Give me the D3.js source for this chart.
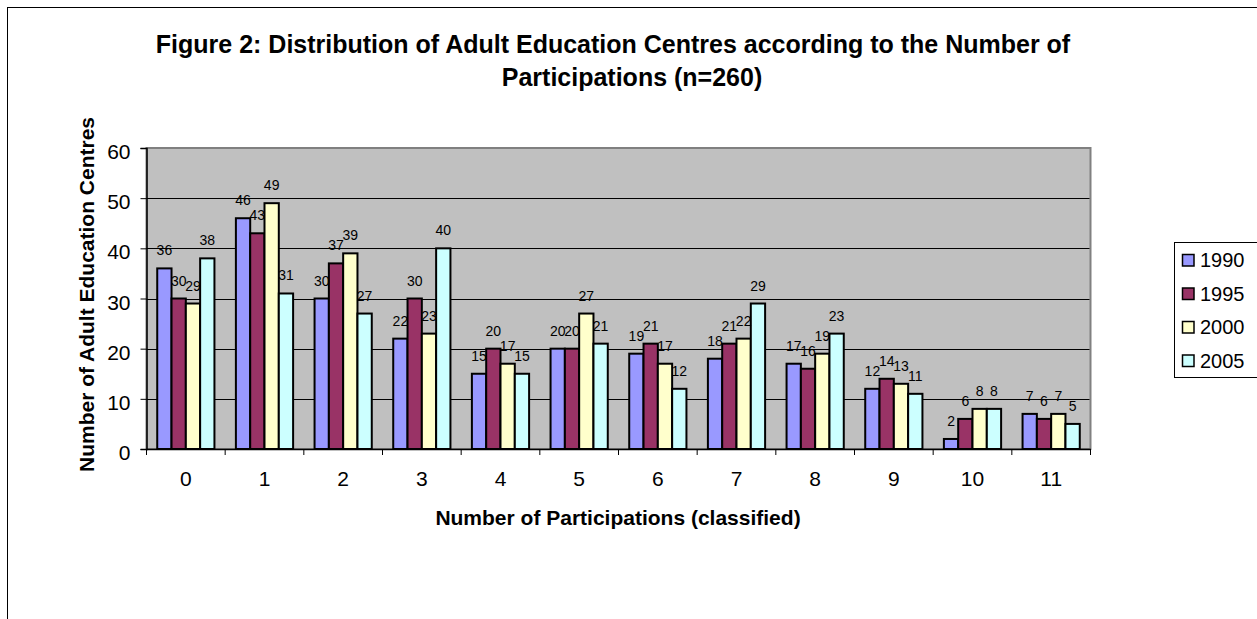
<!DOCTYPE html>
<html>
<head>
<meta charset="utf-8">
<script src="https://cdn.jsdelivr.net/npm/d3@7"></script>
<style>
  html, body { margin: 0; padding: 0; background: #fff; }
  svg text { font-family: "Liberation Sans", Arial, sans-serif; fill: #000; }
</style>
</head>
<body>
<svg id="chart" width="1257" height="619"></svg>
<script>
const categories = ["0","1","2","3","4","5","6","7","8","9","10","11"];
const seriesNames = ["1990","1995","2000","2005"];
const values1990 = [36,46,30,22,15,20,19,18,17,12,2,7];
const values1995 = [30,43,37,30,20,20,21,21,16,14,6,6];
const values2000 = [29,49,39,23,17,27,17,22,19,13,8,7];
const values2005 = [38,31,27,40,15,21,12,29,23,11,8,5];
const yTicks = [0,10,20,30,40,50,60];
const colors = ["#9999FF","#993366","#FFFFCC","#CCFFFF"];
const titleLines = ["Figure 2: Distribution of Adult Education Centres according to the Number of", "Participations (n=260)"];
const xTitle = "Number of Participations (classified)";
const yTitle = "Number of Adult Education Centres";

const series = [values1990, values1995, values2000, values2005];

const svg = d3.select("#chart");

// outer chart border
svg.append("rect").attr("x", 7.5).attr("y", 7.5).attr("width", 1300).attr("height", 700)
  .attr("fill", "#fff").attr("stroke", "#000").attr("stroke-width", 1);

const plot = {left: 146.5, right: 1090.5, top: 148, bottom: 449};

const x = d3.scaleBand().domain(categories).range([plot.left, plot.right])
  .paddingInner(1.5/5.5).paddingOuter(0.75/5.5);
const xs = d3.scaleBand().domain(d3.range(4)).range([0, x.bandwidth()]);
const y = d3.scaleLinear().domain([0, 60]).range([plot.bottom, plot.top]);

// plot background
svg.append("rect").attr("x", plot.left).attr("y", plot.top)
  .attr("width", plot.right - plot.left).attr("height", plot.bottom - plot.top)
  .attr("fill", "#C0C0C0").attr("stroke", "#808080").attr("stroke-width", 2);

// gridlines
svg.append("g").selectAll("line").data(yTicks.filter(d => d > 0 && d < 60)).join("line")
  .attr("x1", plot.left).attr("x2", plot.right - 1)
  .attr("y1", d => Math.round(y(d)) + 0.5).attr("y2", d => Math.round(y(d)) + 0.5)
  .attr("stroke", "#000").attr("stroke-width", 1);

// bars
const groups = svg.append("g").selectAll("g").data(categories).join("g")
  .attr("transform", d => `translate(${x(d)},0)`);
groups.selectAll("rect").data((d, i) => series.map((s, k) => ({k, v: s[i]}))).join("rect")
  .attr("x", d => xs(d.k))
  .attr("y", d => y(d.v))
  .attr("width", xs.bandwidth())
  .attr("height", d => y(0) - y(d.v))
  .attr("fill", d => colors[d.k])
  .attr("stroke", "#000").attr("stroke-width", 2);

// data labels
groups.selectAll("text").data((d, i) => series.map((s, k) => ({k, v: s[i]}))).join("text")
  .attr("x", d => xs(d.k) + xs.bandwidth() / 2)
  .attr("y", d => y(d.v) - 13)
  .attr("text-anchor", "middle")
  .attr("font-size", "14px")
  .text(d => d.v);

// y axis
const yAxis = svg.append("g").attr("transform", `translate(${plot.left},0)`)
  .call(d3.axisLeft(y).tickValues(yTicks).tickSize(6).tickPadding(10));
yAxis.select(".domain").attr("stroke", "#000").attr("stroke-width", 1.5);
yAxis.selectAll(".tick line").attr("stroke", "#000");
yAxis.selectAll(".tick text").attr("font-size", "21px").attr("font-family", "Liberation Sans, Arial, sans-serif").attr("dy", "0.5em");

// x axis
const xAxis = svg.append("g").attr("transform", `translate(0,${plot.bottom})`)
  .call(d3.axisBottom(x).tickSize(0).tickPadding(22));
xAxis.select(".domain").attr("stroke", "#000").attr("stroke-width", 1.5);
xAxis.selectAll(".tick text").attr("font-size", "21px").attr("font-family", "Liberation Sans, Arial, sans-serif");
// category boundary ticks
const bounds = categories.map(c => x(c) - x.step() * x.paddingOuter()).concat([plot.right]);
svg.append("g").selectAll("line").data(bounds).join("line")
  .attr("x1", d => d).attr("x2", d => d)
  .attr("y1", plot.bottom).attr("y2", plot.bottom + 6)
  .attr("stroke", "#000").attr("stroke-width", 1);

// titles
const titleX = [613, 632];
svg.append("text").attr("text-anchor", "middle")
  .attr("font-size", "25px").attr("font-weight", "bold")
  .selectAll("tspan").data(titleLines).join("tspan")
  .attr("x", (d, i) => titleX[i]).attr("y", (d, i) => 53 + i * 33).text(d => d);

svg.append("text").attr("x", 618).attr("y", 525).attr("text-anchor", "middle")
  .attr("font-size", "21px").attr("font-weight", "bold").text(xTitle);

svg.append("text").attr("transform", `translate(94,${(plot.top + plot.bottom) / 2 - 4}) rotate(-90)`)
  .attr("text-anchor", "middle")
  .attr("font-size", "21px").attr("font-weight", "bold").text(yTitle);

// legend
const legend = svg.append("g");
legend.append("rect").attr("x", 1174.5).attr("y", 242.5).attr("width", 120).attr("height", 135)
  .attr("fill", "#fff").attr("stroke", "#000").attr("stroke-width", 1);
const items = legend.selectAll("g.item").data(seriesNames).join("g").attr("class", "item")
  .attr("transform", (d, i) => `translate(1182,${260 + i * 33.5})`);
items.append("rect").attr("x", 0.5).attr("y", -5.5).attr("width", 11.5).attr("height", 11.5)
  .attr("fill", (d, i) => colors[i]).attr("stroke", "#000").attr("stroke-width", 1.5);
items.append("text").attr("x", 18).attr("y", 0).attr("dy", "0.36em")
  .attr("font-size", "20px").text(d => d);
</script>
</body>
</html>
